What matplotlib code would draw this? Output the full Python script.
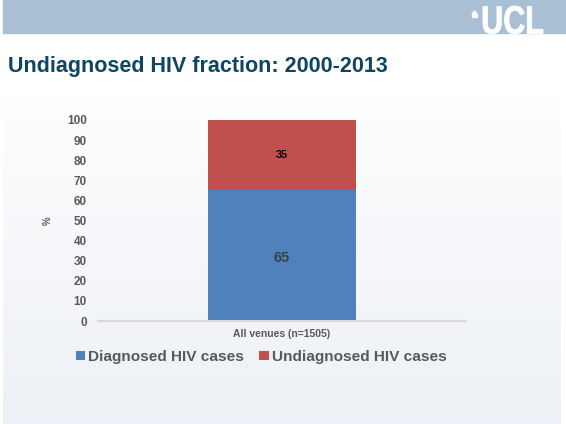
import numpy as np
import matplotlib.pyplot as plt
from matplotlib.patches import Rectangle, Polygon, PathPatch
from matplotlib.textpath import TextPath
from matplotlib.font_manager import FontProperties
from matplotlib.transforms import Affine2D

plt.rcParams['font.family'] = ['Liberation Sans', 'DejaVu Sans']

categories = ['All venues (n=1505)']
diagnosed = [65]
undiagnosed = [35]
series_names = ['Diagnosed HIV cases', 'Undiagnosed HIV cases']
yticks = [0, 10, 20, 30, 40, 50, 60, 70, 80, 90, 100]

W, H = 566, 424
fig = plt.figure(figsize=(W / 100, H / 100), dpi=100)
fig.patch.set_facecolor('white')

# slide background: header band + soft vertical gradient panel
bg = fig.add_axes([0, 0, 1, 1])
bg.set_xlim(0, W)
bg.set_ylim(H, 0)
bg.axis('off')
grad = np.linspace(0, 1, 256)[:, None]
top = np.array([0.995, 0.997, 1.0])
bot = np.array([0.929, 0.941, 0.961])
img = top + grad[..., None] * (bot - top)
bg.imshow(img, extent=[3, 561, 424, 95], aspect='auto', zorder=0)
bg.add_patch(Rectangle((3, 0), 563, 33, color='#a9bfd3', zorder=1))

# UCL wordmark, squeezed into its box
tp = TextPath((0, 0), 'UCL', size=10, prop=FontProperties(family='Liberation Sans', weight='bold'))
ext = tp.get_extents()
sx = 60 / ext.width
sy = 28 / ext.height
tr = Affine2D().translate(-ext.x0, -ext.y0).scale(sx, -sy).translate(483, 34)
bg.add_patch(PathPatch(tr.transform_path(tp), color='white', lw=0.6, zorder=2))
bg.add_patch(Polygon([[472, 14], [474.5, 11], [477, 14]], closed=True,
                     color='white', zorder=2))
bg.add_patch(Rectangle((472, 14), 5, 3, color='white', zorder=2))

bg.text(8, 72, 'Undiagnosed HIV fraction: 2000-2013', color='#0e4561',
        fontsize=15.5, fontweight='bold', ha='left', va='baseline')

ax = fig.add_axes([98 / W, 103 / H, 368 / W, 201 / H])
ax.set_facecolor('none')
x = np.arange(len(categories))
b1 = ax.bar(x, diagnosed, width=0.402, color='#4f81bd', label=series_names[0])
b2 = ax.bar(x, undiagnosed, width=0.402, bottom=diagnosed, color='#c0504d',
            label=series_names[1])

for rect, v in zip(b1, diagnosed):
    ax.text(rect.get_x() + rect.get_width() / 2, v / 2 - 1, str(v),
            ha='center', va='center', fontsize=10.5, fontweight='bold', color='#404040')
for rect, base, v in zip(b2, diagnosed, undiagnosed):
    ax.text(rect.get_x() + rect.get_width() / 2, base + v / 2, str(v),
            ha='center', va='center', fontsize=7.8, fontweight='bold', color='black')

ax.set_xlim(-0.5, 0.5)
ax.set_ylim(0, 100)
ax.set_yticks(yticks)
ax.set_yticklabels([str(t) for t in yticks], fontsize=8.5, fontweight='bold', color='#595959')
ax.set_xticks(x)
ax.set_xticklabels(categories, fontsize=7.5, fontweight='bold', color='#595959')
ax.tick_params(axis='y', length=0, pad=8)
ax.tick_params(axis='x', length=0, pad=6)
for s in ['top', 'right', 'left']:
    ax.spines[s].set_visible(False)
ax.spines['bottom'].set_color('#d9d9d9')
ax.spines['bottom'].set_linewidth(1.5)
ax.set_ylabel('%', fontsize=7, fontweight='bold', color='#595959', labelpad=10)

leg = fig.legend(handles=[b1, b2], loc='center', bbox_to_anchor=(261 / W, 1 - 357 / H),
                 ncol=2, frameon=False, handlelength=0.6, handleheight=0.6,
                 handletextpad=0.2, columnspacing=1.0, borderaxespad=0,
                 prop=FontProperties(family='Liberation Sans', weight='bold', size=11.1))
for t in leg.get_texts():
    t.set_color('#595959')

fig.savefig('out.png', dpi=100)
